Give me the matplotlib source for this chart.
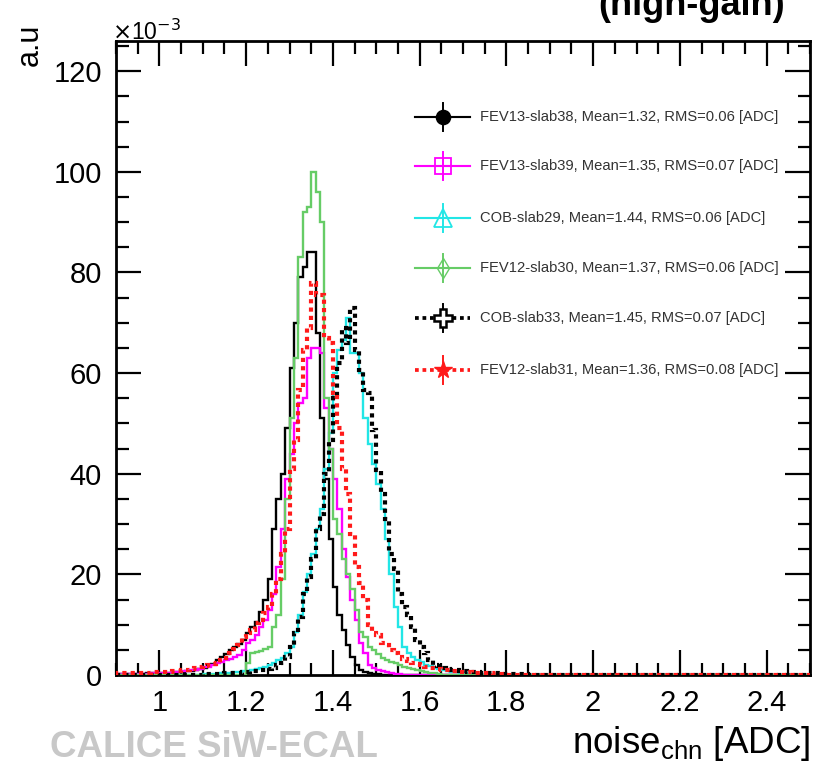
import numpy as np
import matplotlib
matplotlib.use("Agg")
import matplotlib.pyplot as plt
from matplotlib.ticker import MultipleLocator, FixedLocator

plt.rcParams['font.family'] = ['Liberation Sans', 'DejaVu Sans']

# ---------------- data (bin contents in units of 1e-3, bin width 0.01 starting at 0.90) -------------
x_min, x_max, bin_width = 0.90, 2.50, 0.01

slab38 = [0.1, 0.1, 0.1, 0.2, 0.2, 0.2, 0.2, 0.3, 0.3, 0.3,
          0.3, 0.3, 0.4, 0.5, 0.5, 0.6, 0.7, 0.8, 1.0, 1.2,
          1.4, 2.0, 2.2, 3.0, 3.5, 4.2, 5.0, 5.5, 6.2, 7.0,
          8.3, 9.5, 10.5, 12.5, 15, 19, 29, 35, 40, 49,
          61, 70, 79, 81, 84, 84, 68, 51, 39, 27,
          17.5, 12, 9, 6, 3.5, 2, 1, 0.5, 0.3, 0.2,
          0.1]

slab39 = [0.1, 0.1, 0.1, 0.1, 0.2, 0.2, 0.2, 0.2, 0.3, 0.3,
          0.3, 0.3, 0.4, 0.5, 0.6, 0.7, 0.8, 0.9, 1.0, 1.2,
          1.5, 1.6, 2.0, 2.4, 2.6, 3.0, 3.2, 3.6, 4.0, 5.0,
          6.4, 7, 8, 9.5, 11, 13, 16, 21.5, 29, 39,
          44, 50, 54, 55, 63, 65, 65, 64, 53, 45,
          39, 33, 25, 19.5, 15, 11, 6.4, 4.4, 2, 1.4,
          1.0, 0.8, 0.5, 0.3, 0.2, 0.1]

slab29 = [0, 0, 0, 0, 0, 0, 0, 0, 0, 0,
          0, 0, 0, 0, 0, 0, 0, 0, 0, 0,
          0.1, 0.1, 0.2, 0.2, 0.3, 0.3, 0.4, 0.5, 0.6, 0.7,
          0.8, 1.0, 1.2, 1.4, 1.6, 2.0, 2.4, 3.0, 3.4, 4.4,
          5.6, 8.5, 12, 16.5, 20, 24, 29, 33, 41, 48,
          60, 64.6, 66.6, 71, 64, 64, 60, 51, 46, 42,
          38, 33, 27, 20, 13.5, 9.5, 5.6, 4.4, 3.5, 3.0,
          2.5, 2.0, 1.7, 1.4, 1.2, 1.0, 0.8, 0.6, 0.5, 0.4,
          0.3, 0.2, 0.1]

slab30 = [0, 0, 0, 0, 0, 0, 0, 0, 0, 0,
          0, 0, 0, 0, 0, 0, 0, 0, 0, 0,
          0, 0, 0, 0, 0, 0, 0, 0, 0, 0,
          2.4, 4.4, 4.6, 4.8, 5.2, 5.5, 9.5, 12, 19, 35,
          51, 63, 83, 92, 93, 100, 96, 90, 55, 45,
          31, 28, 23, 20, 17, 13, 8.5, 7.5, 5.6, 5.0,
          4.2, 3.4, 3.0, 2.6, 2.4, 2.0, 1.6, 1.4, 1.1, 0.9,
          0.7, 0.5, 0.4, 0.3, 0.2]

slab33 = [0, 0, 0, 0, 0, 0, 0, 0, 0, 0,
          0, 0, 0, 0, 0, 0, 0, 0, 0, 0,
          0.1, 0.1, 0.1, 0.2, 0.2, 0.3, 0.3, 0.4, 0.4, 0.5,
          0.6, 0.7, 0.8, 0.9, 1.0, 1.2, 1.4, 2.0, 2.4, 3.6,
          5.6, 8.3, 11.5, 16, 19.5, 23, 29, 32, 40, 46.7,
          55, 62, 69, 66, 73, 64.6, 60.6, 56.7, 56, 48.7,
          40.8, 36, 31, 24, 21, 16, 13.5, 12, 9.5, 7,
          5.6, 4.4, 3.0, 2.0, 1.8, 1.4, 1.2, 1.0, 0.9, 0.8,
          0.7, 0.6, 0.6, 0.5, 0.4, 0.4, 0.3, 0.3, 0.3, 0.2,
          0.2, 0.2, 0.1, 0.1, 0.1]

slab31 = [0.3, 0.3, 0.3, 0.3, 0.4, 0.4, 0.4, 0.4, 0.5, 0.5,
          0.5, 0.6, 0.6, 0.7, 0.8, 0.9, 1.0, 1.1, 1.4, 1.6,
          1.8, 2.0, 2.2, 2.4, 3.0, 3.4, 4.4, 5.2, 6.0, 7.6,
          8.3, 9, 10.3, 11, 12.3, 13.5, 16, 19, 24, 29,
          41, 46.7, 56.7, 64.6, 69, 78, 75.5, 75.5, 67, 66,
          56, 49, 41, 36, 28, 21.5, 18.3, 15, 10, 8.3,
          8, 6.4, 6, 5, 4.4, 3.6, 3.2, 2.8, 2.4, 2.2,
          1.9, 1.6, 1.4, 1.3, 1.2, 1.0, 0.9, 0.8, 0.7, 0.6,
          0.5, 0.5, 0.4, 0.4, 0.3, 0.3, 0.3, 0.2, 0.2, 0.2]

labels = ["FEV13-slab38, Mean=1.32, RMS=0.06 [ADC]",
          "FEV13-slab39, Mean=1.35, RMS=0.07 [ADC]",
          "COB-slab29, Mean=1.44, RMS=0.06 [ADC]",
          "FEV12-slab30, Mean=1.37, RMS=0.06 [ADC]",
          "COB-slab33, Mean=1.45, RMS=0.07 [ADC]",
          "FEV12-slab31, Mean=1.36, RMS=0.08 [ADC]"]

x_ticks = [1.0, 1.2, 1.4, 1.6, 1.8, 2.0, 2.2, 2.4]
x_ticklabels = ["1", "1.2", "1.4", "1.6", "1.8", "2", "2.2", "2.4"]
y_ticks = [0, 20, 40, 60, 80, 100, 120]

# ---------------- styles ----------------
styles = [
    dict(color="black", ls="-", lw=1.7, marker="o", mfc="black", ms=10, mew=1.2),
    dict(color="#ff00ff", ls="-", lw=1.7, marker="s", mfc="none", ms=11, mew=1.3),
    dict(color="#22e6e6", ls="-", lw=1.7, marker="^", mfc="none", ms=13, mew=1.3),
    dict(color="#66cc66", ls="-", lw=1.7, marker="d", mfc="none", ms=10, mew=1.0),
    dict(color="black", ls=(0, (1, 1)), lw=3.0, marker="P", mfc="white", ms=13, mew=1.8),
    dict(color="#ff1a1a", ls=(0, (1, 1)), lw=3.0, marker="*", mfc="#ff1a1a", ms=13, mew=1.0),
]

series = [slab38, slab39, slab29, slab30, slab33, slab31]

nbins = int(round((x_max - x_min) / bin_width))
edges = np.round(x_min + bin_width * np.arange(nbins + 1), 4)

fig = plt.figure(figsize=(8.15, 7.68), dpi=100)
ax = fig.add_axes([116 / 815, 1 - 675 / 768, 694 / 815, 634 / 768])

for vals, st in zip(series, styles):
    h = np.zeros(nbins)
    h[:len(vals)] = vals
    ax.stairs(h, edges, baseline=0, color=st["color"], linestyle=st["ls"],
              linewidth=st["lw"], zorder=3)

ax.set_xlim(x_min, x_max)
ax.set_ylim(0, 126)

ax.xaxis.set_major_locator(FixedLocator(x_ticks))
ax.set_xticklabels(x_ticklabels)
ax.xaxis.set_minor_locator(MultipleLocator(0.05))
ax.yaxis.set_major_locator(FixedLocator(y_ticks))
ax.yaxis.set_minor_locator(MultipleLocator(5))

ax.tick_params(which="both", direction="in", top=True, right=True, width=1.6, colors="black")
ax.tick_params(which="major", length=18, labelsize=21, pad=10)
ax.tick_params(which="minor", length=9)
for s in ax.spines.values():
    s.set_linewidth(2.0)

# ---------------- legend (manual, ROOT-like) ----------------
row_y = [0.880, 0.803, 0.721, 0.642, 0.563, 0.481]
for st, lab, yy in zip(styles, labels, row_y):
    ax.plot([0.431, 0.510], [yy, yy], transform=ax.transAxes, color=st["color"],
            linestyle=st["ls"], linewidth=st["lw"] * 0.9, clip_on=False, zorder=4)
    ax.plot([0.4705, 0.4705], [yy - 0.022, yy + 0.022], transform=ax.transAxes,
            color=st["color"], linewidth=1.4, clip_on=False, zorder=4)
    ax.plot([0.4705], [yy], transform=ax.transAxes, color=st["color"], linestyle="none",
            marker=st["marker"], markerfacecolor=st["mfc"], markeredgecolor=st["color"],
            markersize=st["ms"], markeredgewidth=st["mew"], clip_on=False, zorder=5)
    ax.text(0.5245, yy, lab, transform=ax.transAxes, fontsize=10.6, color="#333333",
            ha="left", va="center", zorder=5)

# ---------------- texts ----------------
fig.text(30 / 815, 1 - 45 / 768, "a.u", rotation=90, fontsize=22, ha="center", va="center")
fig.text(112 / 815, 1 - 40 / 768, r"$\times$10$^{-3}$", fontsize=16.5, ha="left", va="baseline")
fig.text(810 / 815, 1 - 753 / 768, r"noise$_{\mathregular{chn}}$ [ADC]", fontsize=26.5,
         ha="right", va="baseline")
fig.text(50 / 815, 1 - 757 / 768, "CALICE SiW-ECAL", fontsize=26.5, fontweight="bold",
         color="#c8c8c8", ha="left", va="baseline")
fig.text(785 / 815, 1 - 15 / 768, "(high-gain)", fontsize=26, fontweight="bold",
         ha="right", va="baseline")

fig.savefig("out.png", dpi=100)
